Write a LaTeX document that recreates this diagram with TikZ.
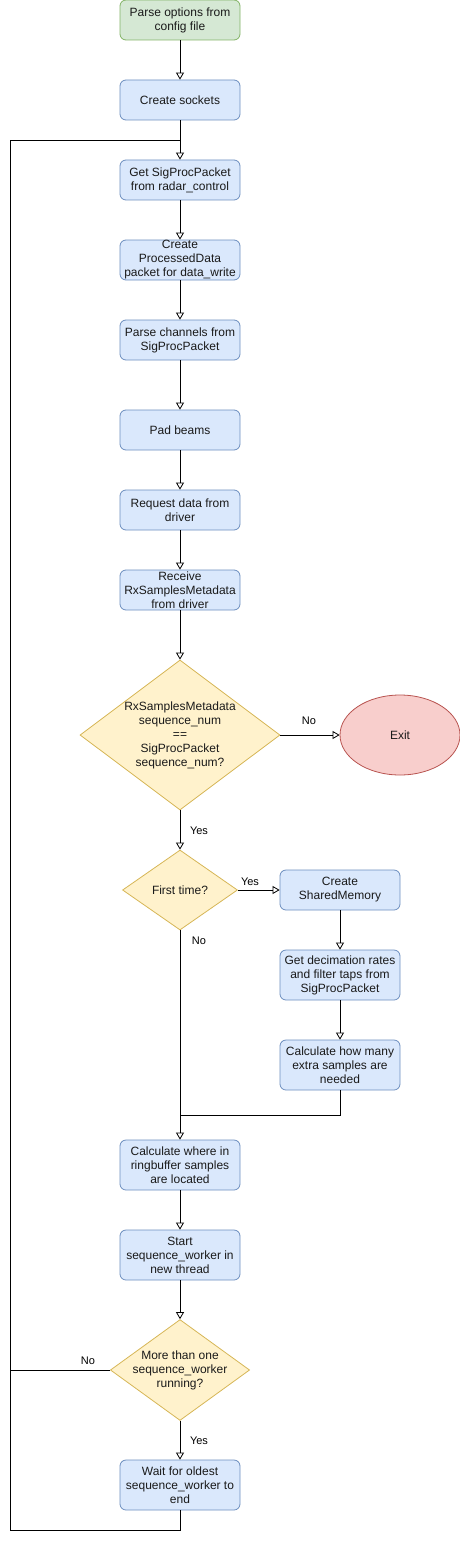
\documentclass[tikz,border=0pt]{standalone}
\usepackage{fontspec}
\setmainfont{Liberation Sans}
\usetikzlibrary{arrows.meta,shapes.geometric}

\definecolor{startfill}{HTML}{D5E8D4}
\definecolor{startline}{HTML}{82B366}
\definecolor{procfill}{HTML}{DAE8FC}
\definecolor{procline}{HTML}{6C8EBF}
\definecolor{askfill}{HTML}{FFF2CC}
\definecolor{askline}{HTML}{D6B656}
\definecolor{endfill}{HTML}{F8CECC}
\definecolor{endline}{HTML}{B85450}
\definecolor{textgray}{HTML}{1A1A1A}

\begin{document}
\begin{tikzpicture}[
    x=1pt, y=-1pt,
    every node/.style={
        font=\fontsize{12}{14}\selectfont,
        text=textgray,
        align=center,
    },
    procbox/.style={draw=procline, fill=procfill, rounded corners=6pt,
        minimum width=120pt, minimum height=40pt, inner sep=0pt, line width=0.8pt},
    startbox/.style={procbox, draw=startline, fill=startfill},
    askbox/.style={diamond, draw=askline, fill=askfill, inner sep=-2pt, line width=0.8pt},
    exitbox/.style={ellipse, draw=endline, fill=endfill,
        minimum width=120pt, minimum height=80pt, line width=0.8pt},
    flow/.style={-{Triangle[open,length=7pt,width=8pt]}, line width=0.8pt},
    line/.style={line width=0.8pt},
    lbl/.style={font=\fontsize{11}{13}\selectfont, text=black},
]
    \useasboundingbox (0,0) rectangle (460,1541);

    \node[startbox] (parse) at (180,20) {Parse options from\\config file};
    \node[procbox] (sockets) at (180,100) {Create sockets};
    \node[procbox] (getpkt) at (180,180) {Get SigProcPacket\\from radar\_control};
    \node[procbox] (procdata) at (180,260) {Create\\ProcessedData\\packet for data\_write};
    \node[procbox] (channels) at (180,340) {Parse channels from\\SigProcPacket};
    \node[procbox] (pad) at (180,430) {Pad beams};
    \node[procbox] (request) at (180,510) {Request data from\\driver};
    \node[procbox] (receive) at (180,590) {Receive\\RxSamplesMetadata\\from driver};
    \node[askbox, minimum width=200pt, minimum height=150pt, shape aspect=1.33] (seqcheck) at (180,735)
        {RxSamplesMetadata\\sequence\_num\\==\\SigProcPacket\\sequence\_num?};
    \node[exitbox] (exit) at (400,735) {Exit};
    \node[askbox, minimum width=115pt, minimum height=80pt, shape aspect=1.44] (first) at (180,890) {First time?};
    \node[procbox] (shm) at (340,890) {Create\\SharedMemory};
    \node[procbox, minimum height=50pt] (decim) at (340,975) {Get decimation rates\\and filter taps from\\SigProcPacket};
    \node[procbox, minimum height=50pt] (extra) at (340,1065) {Calculate how many\\extra samples are\\needed};
    \node[procbox, minimum height=50pt] (ringbuf) at (180,1165) {Calculate where in\\ringbuffer samples\\are located};
    \node[procbox, minimum height=50pt] (start) at (180,1255) {Start\\sequence\_worker in\\new thread};
    \node[askbox, minimum width=138pt, minimum height=100pt, shape aspect=1.38] (more) at (180,1370)
        {More than one\\sequence\_worker\\running?};
    \node[procbox, minimum height=50pt] (wait) at (180,1485) {Wait for oldest\\sequence\_worker to\\end};

    \coordinate (looptop) at (180,140);
    \coordinate (looptl) at (10,140);
    \coordinate (loopbl) at (10,1530);
    \coordinate (join) at (180,1115);

    \draw[flow] (parse) -- (sockets);
    \draw[flow] (sockets) -- (getpkt);
    \draw[flow] (getpkt) -- (procdata);
    \draw[flow] (procdata) -- (channels);
    \draw[flow] (channels) -- (pad);
    \draw[flow] (pad) -- (request);
    \draw[flow] (request) -- (receive);
    \draw[flow] (receive) -- (seqcheck);
    \draw[flow] (seqcheck) -- (exit);
    \draw[flow] (seqcheck) -- (first);
    \draw[flow] (first) -- (shm);
    \draw[flow] (shm) -- (decim);
    \draw[flow] (decim) -- (extra);
    \draw[line] (extra.south) |- (join);
    \draw[flow] (first) -- (ringbuf);
    \draw[flow] (ringbuf) -- (start);
    \draw[flow] (start) -- (more);
    \draw[flow] (more) -- (wait);
    \draw[line] (more.west) -| (looptl) -- (looptop);
    \draw[line] (wait.south) |- (loopbl) -- (looptl);

    \node[lbl] (seqno) at (309,721) {No};
    \node[lbl] (seqyes) at (199,831) {Yes};
    \node[lbl] (firstyes) at (250,882) {Yes};
    \node[lbl] (firstno) at (199,941) {No};
    \node[lbl] (moreno) at (88,1361) {No};
    \node[lbl] (moreyes) at (199,1441) {Yes};
\end{tikzpicture}
\end{document}
